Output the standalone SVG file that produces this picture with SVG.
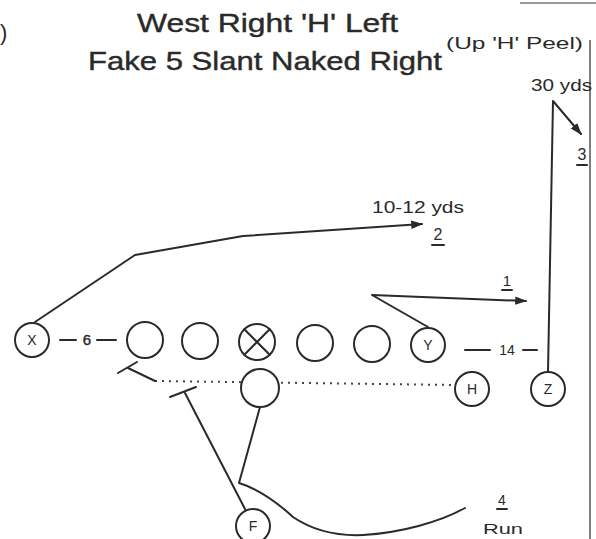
<svg xmlns="http://www.w3.org/2000/svg" width="596" height="539" viewBox="0 0 596 539">
<style>
.t{font-family:"Liberation Sans",Arial,sans-serif;fill:#2a2a2a}
.b{stroke:#2a2a2a;stroke-width:0.4}
.p{fill:#fff;stroke:#2a2a2a;stroke-width:2}
.l{fill:none;stroke:#2a2a2a;stroke-width:2;stroke-linecap:round;stroke-linejoin:round}
.d{fill:none;stroke:#444;stroke-width:2;stroke-dasharray:2 5}
.c{font-family:"Liberation Sans",Arial,sans-serif;font-size:14px;fill:#2a2a2a;text-anchor:middle}
</style>
<defs>
<marker id="ah" viewBox="0 0 10 10" refX="9" refY="5" markerWidth="6" markerHeight="6" orient="auto" markerUnits="strokeWidth">
<path d="M0,1.5 L10,5 L0,8.5 z" fill="#2a2a2a"/>
</marker>
</defs>
<rect width="596" height="539" fill="#fff"/>
<g id="frame">
<path d="M520,3 L596,3" stroke="#777" stroke-width="1.5" fill="none"/>
<path d="M590,40 L590,539" stroke="#555" stroke-width="1.5" fill="none"/>
<text class="t" x="0" y="40" font-size="22">)</text>
</g>
<g id="title">
<text class="t b" x="137" y="32" font-size="26" textLength="261" lengthAdjust="spacingAndGlyphs">West Right 'H' Left</text>
<text class="t b" x="88" y="70" font-size="26" textLength="354" lengthAdjust="spacingAndGlyphs">Fake 5 Slant Naked Right</text>
<text class="t" x="446" y="49" font-size="17" textLength="137" lengthAdjust="spacingAndGlyphs">(Up 'H' Peel)</text>
</g>
<g id="connectors">
<polyline class="l" points="35,322 135,255 243,236 422,224" marker-end="url(#ah)"/>
<polyline class="l" points="428,327 372,295 526,301" marker-end="url(#ah)"/>
<polyline class="l" points="548,372 553,101 581,134" marker-end="url(#ah)"/>
<line class="d" x1="155" y1="381" x2="456" y2="385"/>
<line class="l" x1="118" y1="373" x2="137" y2="362"/>
<line class="l" x1="128" y1="368" x2="155" y2="381"/>
<line class="l" x1="170" y1="397" x2="196" y2="387"/>
<line class="l" x1="185" y1="393" x2="245" y2="509"/>
<path class="l" d="M260,407 L239,483 C262,490 280,505 293,517 C315,532 340,536 363,535 C400,533 440,522 465,508"/>
<line class="l" x1="60" y1="340" x2="76" y2="340"/>
<line class="l" x1="97" y1="340" x2="116" y2="340"/>
<line class="l" x1="465" y1="350" x2="490" y2="350"/>
<line class="l" x1="523" y1="350" x2="537" y2="350"/>
</g>
<g id="labels">
<text class="t b" x="87" y="345" font-size="15" text-anchor="middle">6</text>
<text class="t" x="507" y="355" font-size="14" text-anchor="middle">14</text>
<text class="t" x="531" y="91" font-size="16" textLength="61" lengthAdjust="spacingAndGlyphs">30 yds</text>
<text class="t" x="582" y="160" font-size="16" text-anchor="middle">3</text>
<line class="l" x1="577" y1="165" x2="587" y2="165" stroke-width="1.5"/>
<text class="t" x="372" y="213" font-size="16" textLength="92" lengthAdjust="spacingAndGlyphs">10-12 yds</text>
<text class="t" x="438" y="240" font-size="16" text-anchor="middle">2</text>
<line class="l" x1="432" y1="245" x2="444" y2="245" stroke-width="1.5"/>
<text class="t" x="507" y="286" font-size="15" text-anchor="middle">1</text>
<line class="l" x1="502" y1="290" x2="512" y2="290" stroke-width="1.5"/>
<text class="t" x="502" y="505" font-size="14" text-anchor="middle">4</text>
<line class="l" x1="497" y1="509" x2="507" y2="509" stroke-width="1.5"/>
<text class="t" x="483" y="534" font-size="15" textLength="40" lengthAdjust="spacingAndGlyphs">Run</text>
</g>
<g id="X"><circle class="p" cx="32" cy="340" r="17"/><text class="c" x="32" y="345">X</text></g>
<g id="LT"><circle class="p" cx="145" cy="340" r="18"/></g>
<g id="LG"><circle class="p" cx="200" cy="341" r="18"/></g>
<g id="C"><circle class="p" cx="257" cy="342" r="18"/><path class="l" d="M244.3,329.3 L269.7,354.7 M269.7,329.3 L244.3,354.7" stroke-width="1.8"/></g>
<g id="RG"><circle class="p" cx="315" cy="343" r="18"/></g>
<g id="RT"><circle class="p" cx="372" cy="344" r="18"/></g>
<g id="Y"><circle class="p" cx="428" cy="345" r="17"/><text class="c" x="428" y="350">Y</text></g>
<g id="QB"><circle class="p" cx="260" cy="388" r="19"/></g>
<g id="H"><circle class="p" cx="472" cy="389" r="17"/><text class="c" x="472" y="394">H</text></g>
<g id="Z"><circle class="p" cx="548" cy="389" r="17"/><text class="c" x="548" y="394">Z</text></g>
<g id="F"><circle class="p" cx="253" cy="526" r="17"/><text class="c" x="253" y="531">F</text></g>
</svg>
